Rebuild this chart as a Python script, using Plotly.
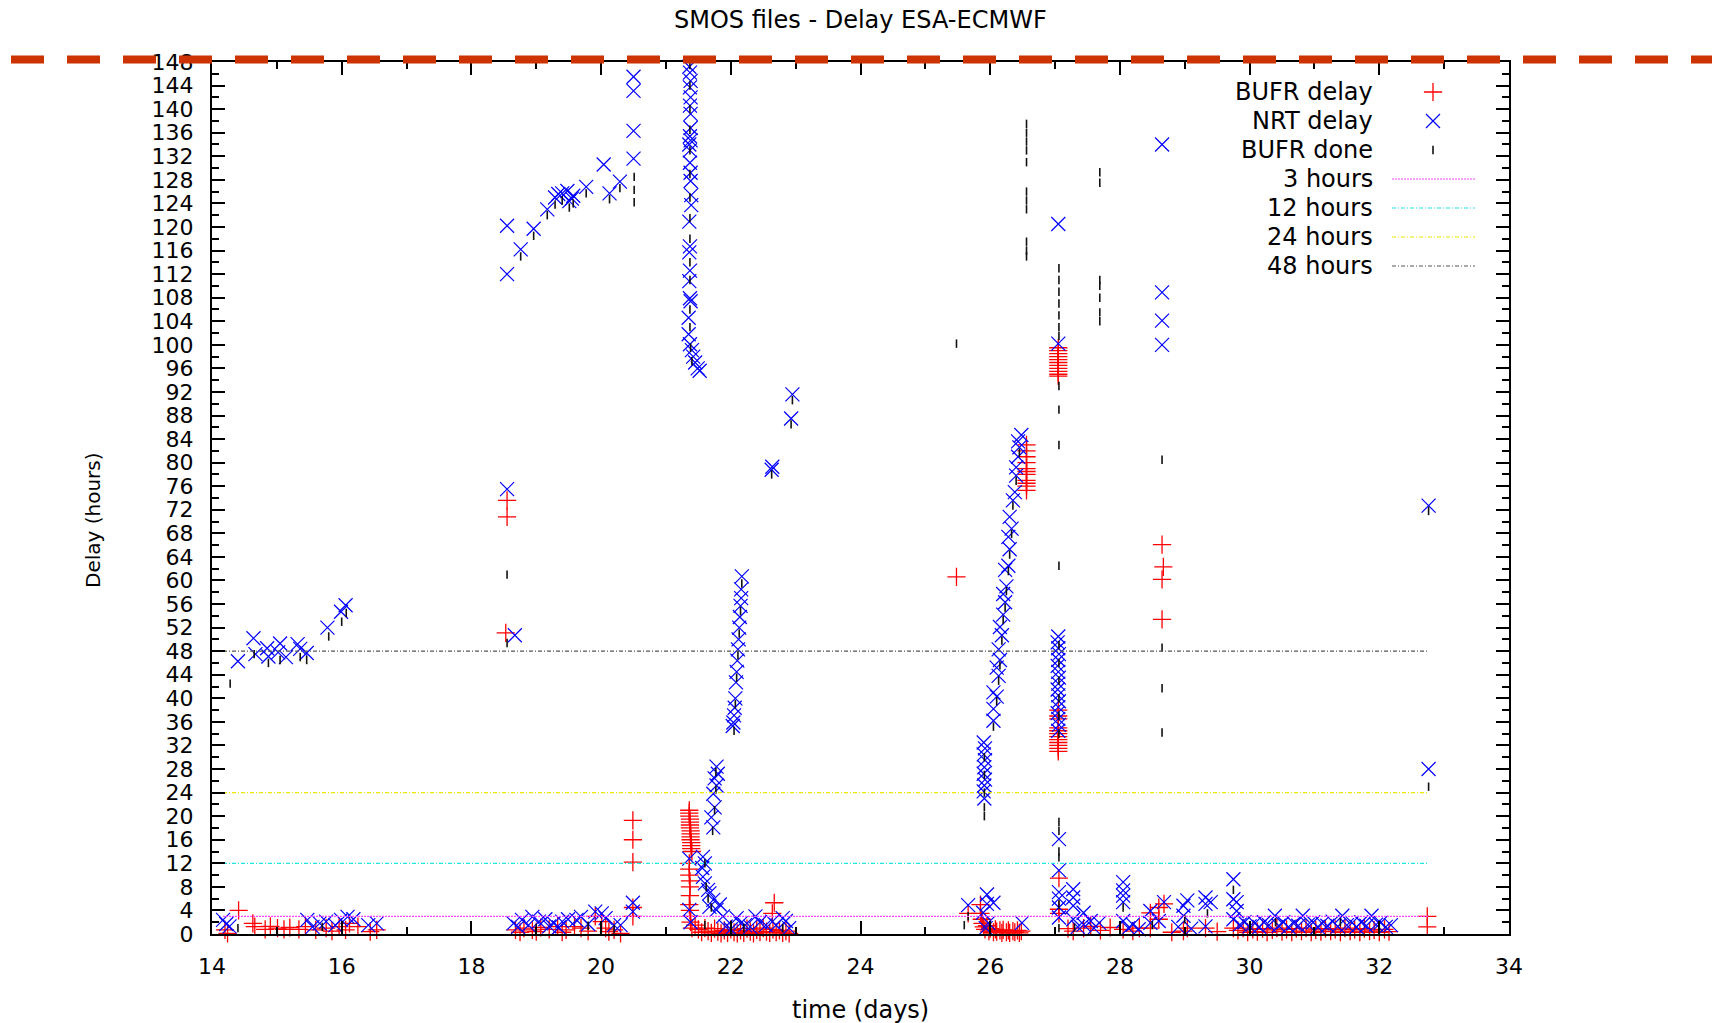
import plotly.graph_objects as go

# ---------------- data (time in days, delay in hours) ----------------
NRT_EARLY = [(14.17, 2.4), (14.22, 1.7), (14.27, 1.3),
             (14.40, 46.3), (14.64, 50.2), (14.67, 47.5), (14.85, 48.5), (14.87, 47.1),
             (15.02, 47.8), (15.05, 49.3), (15.14, 47.0), (15.32, 49.2), (15.36, 48.4),
             (15.46, 47.7), (15.78, 52.0), (15.99, 54.7), (16.06, 55.8),
             (15.47, 2.4), (15.55, 1.2), (15.66, 1.8), (15.76, 2.1), (15.90, 1.5), (15.99, 2.4),
             (16.09, 2.9), (16.18, 2.5), (16.41, 1.5), (16.54, 1.8)]
NRT_MID = [(18.55, 120.2), (18.55, 112.0), (18.76, 116.2), (18.96, 119.7), (19.17, 123.0),
           (19.29, 125.0), (19.34, 125.6), (19.40, 125.7), (19.48, 126.1), (19.51, 124.4),
           (19.55, 124.8), (19.57, 125.3), (19.77, 126.8), (20.04, 130.6), (20.13, 125.7),
           (20.29, 127.7), (20.50, 145.5), (20.50, 143.1), (20.50, 136.3), (20.50, 131.6),
           (18.55, 75.5), (18.67, 50.7),
           (18.65, 1.8), (18.72, 1.2), (18.78, 2.4), (18.88, 1.5), (18.94, 2.9), (19.04, 2.1),
           (19.14, 2.5), (19.20, 1.3), (19.27, 1.8), (19.35, 1.1), (19.40, 2.1), (19.49, 2.5),
           (19.62, 2.4), (19.69, 2.9), (19.80, 1.7), (19.91, 3.8), (20.01, 3.5), (20.07, 2.7),
           (20.20, 1.5), (20.30, 1.5), (20.49, 5.3), (20.49, 3.8)]
NRT_COL21 = [(21.36, 147.2), (21.37, 146.2), (21.38, 144.8), (21.37, 143.7), (21.38, 142.0),
             (21.37, 140.6), (21.38, 139.2), (21.38, 136.8), (21.37, 135.4), (21.38, 134.7),
             (21.36, 134.0), (21.37, 133.0), (21.37, 130.9), (21.38, 129.2), (21.38, 127.8),
             (21.39, 125.4), (21.39, 123.7), (21.36, 120.9), (21.37, 116.7), (21.36, 115.7),
             (21.37, 112.6), (21.36, 110.8), (21.37, 107.9), (21.38, 107.4), (21.35, 104.6),
             (21.35, 101.8), (21.37, 100.1), (21.40, 99.1), (21.42, 98.0), (21.45, 97.0),
             (21.49, 96.0), (21.52, 95.6)]
NRT_22 = [(21.78, 28.4), (21.80, 27.2), (21.75, 26.4), (21.78, 25.2), (21.73, 23.8),
          (21.75, 21.5), (21.70, 19.8), (21.73, 18.1),
          (21.36, 12.8), (21.57, 13.1), (21.60, 12.0), (21.56, 11.2), (21.57, 9.7), (21.60, 8.6),
          (21.65, 7.5), (21.67, 6.9), (21.73, 5.8), (21.83, 5.0), (21.67, 4.6), (21.78, 4.1),
          (21.36, 4.1), (21.88, 3.0), (21.38, 2.0),
          (21.92, 1.25), (22.00, 0.8), (22.09, 2.7), (22.15, 1.8), (22.22, 1.5), (22.30, 1.2),
          (22.38, 3.0), (22.45, 2.0), (22.54, 1.5), (22.64, 2.1), (22.70, 1.5), (22.80, 2.7),
          (22.85, 2.2), (22.90, 1.0),
          (22.03, 35.3), (22.04, 35.9), (22.05, 37.1), (22.06, 38.4), (22.07, 40.0),
          (22.08, 42.7), (22.09, 44.5), (22.10, 46.4), (22.11, 48.3), (22.12, 50.0),
          (22.13, 52.0), (22.14, 53.8), (22.15, 55.7), (22.16, 57.0), (22.16, 58.5),
          (22.17, 60.7),
          (22.63, 78.8), (22.64, 79.3), (22.93, 87.5), (22.95, 91.6)]
NRT_26 = [(25.66, 4.9),
          (25.90, 32.5), (25.92, 31.5), (25.90, 30.5), (25.92, 29.5), (25.91, 28.3),
          (25.90, 27.2), (25.92, 26.2), (25.91, 25.2), (25.90, 24.2), (25.91, 23.0),
          (26.05, 36.2), (26.05, 38.2), (26.10, 40.3), (26.05, 41.0), (26.13, 43.8),
          (26.10, 45.2), (26.15, 46.5), (26.13, 48.3), (26.18, 50.7), (26.15, 52.1),
          (26.20, 54.2), (26.23, 56.3), (26.20, 57.7), (26.25, 59.0), (26.23, 61.8),
          (26.28, 62.5), (26.30, 65.3), (26.28, 67.4), (26.33, 68.8), (26.30, 70.8),
          (26.35, 73.6), (26.38, 75.0), (26.40, 77.8), (26.40, 79.2), (26.43, 81.0),
          (26.45, 82.6), (26.43, 83.6), (26.48, 84.7),
          (25.95, 6.7), (26.05, 5.3), (25.95, 5.1), (25.89, 3.6), (25.97, 1.9), (25.93, 1.0),
          (26.49, 1.9)]
NRT_27 = [(27.05, 120.5), (27.05, 100.2),
          (27.05, 50.5), (27.04, 49.5), (27.05, 48.5), (27.06, 47.5), (27.05, 46.5),
          (27.04, 45.5), (27.05, 44.5), (27.06, 43.5), (27.05, 42.5), (27.04, 41.5),
          (27.05, 40.5), (27.06, 39.5), (27.05, 38.5), (27.04, 37.5), (27.05, 36.5),
          (27.06, 35.5), (27.05, 34.5),
          (27.06, 16.1), (27.06, 10.8), (27.06, 7.1), (27.06, 6.0), (27.06, 4.5), (27.06, 2.8),
          (27.28, 7.6), (27.28, 6.2), (27.28, 4.8), (27.28, 2.5), (27.35, 1.2), (27.44, 3.6),
          (27.44, 1.6), (27.55, 2.2), (27.60, 1.0), (27.68, 1.9)]
NRT_LATE = [(28.05, 8.8), (28.05, 7.4), (28.05, 6.5), (28.05, 5.4), (28.05, 2.2), (28.13, 1.0),
            (28.20, 1.6), (28.29, 0.8), (28.47, 3.9), (28.47, 1.9), (28.60, 2.2), (28.68, 5.4),
            (28.90, 1.2), (28.98, 4.8), (28.98, 3.1), (29.04, 5.7), (29.10, 0.9), (29.32, 6.2),
            (29.32, 5.1), (29.32, 1.3), (29.40, 5.4), (29.75, 9.3), (29.75, 5.9), (29.80, 5.4),
            (29.80, 3.9), (29.75, 2.5),
            (28.65, 134.0), (28.65, 108.9), (28.65, 104.1), (28.65, 100.0),
            (29.85, 1.6), (29.92, 2.0), (30.00, 1.3), (30.08, 1.8), (30.15, 1.2), (30.22, 2.0),
            (30.30, 1.5), (30.39, 3.1), (30.45, 1.4), (30.52, 2.0), (30.60, 1.2), (30.68, 1.8),
            (30.75, 1.4), (30.82, 3.1), (30.90, 1.6), (30.98, 2.0), (31.05, 1.2), (31.12, 1.8),
            (31.20, 1.4), (31.28, 2.1), (31.36, 1.3), (31.43, 3.1), (31.50, 1.5), (31.58, 1.9),
            (31.65, 1.2), (31.72, 2.0), (31.80, 1.4), (31.88, 3.1), (31.95, 1.6), (32.02, 1.9),
            (32.10, 1.2), (32.18, 1.5),
            (32.76, 72.7), (32.76, 28.0)]

BUFR_EARLY = [(14.20, 0.7), (14.24, 0.1), (14.41, 4.0), (14.63, 1.8), (14.66, 1.25),
              (14.82, 0.8), (14.90, 1.3), (15.01, 1.0), (15.11, 0.8), (15.20, 1.1), (15.34, 0.8),
              (15.44, 1.25), (15.60, 0.7), (15.76, 1.0), (15.85, 0.5), (15.96, 1.25),
              (16.06, 0.7), (16.12, 1.8), (16.25, 1.25), (16.44, 0.4), (16.54, 0.7)]
BUFR_MID = [(18.55, 73.6), (18.55, 70.8), (18.53, 51.1),
            (18.68, 0.7), (18.75, 0.3), (18.81, 1.0), (18.94, 0.7), (19.00, 0.4), (19.07, 1.1),
            (19.20, 0.8), (19.33, 1.25), (19.40, 0.3), (19.46, 0.7), (19.59, 1.25), (19.69, 1.0),
            (19.80, 0.5), (19.91, 3.0), (20.01, 2.1), (20.07, 1.0), (20.12, 0.4), (20.20, 0.7),
            (20.30, 0.1),
            (20.49, 19.3), (20.49, 16.0), (20.49, 12.2), (20.49, 4.5), (20.49, 3.0)]
BUFR_COL21 = [(21.36, 21.0), (21.36, 20.5), (21.36, 20.0), (21.37, 19.5), (21.37, 19.0),
              (21.37, 18.5), (21.37, 18.0), (21.38, 17.5), (21.38, 17.0), (21.38, 16.5),
              (21.38, 16.0), (21.39, 15.5), (21.39, 15.0), (21.39, 14.5), (21.40, 14.0),
              (21.36, 12.0), (21.36, 11.0), (21.36, 10.0), (21.37, 9.0), (21.37, 8.0),
              (21.37, 6.5), (21.36, 5.0), (21.37, 4.0), (21.38, 3.0), (21.38, 2.0), (21.40, 1.0)]
BUFR_22 = [(21.45, 1.5), (21.50, 0.8), (21.55, 0.3), (21.60, 1.0), (21.65, 0.5), (21.70, 0.2),
           (21.75, 0.9), (21.80, 0.4), (21.85, 0.1), (21.90, 0.6), (21.95, 0.2), (22.00, 0.8),
           (22.05, 0.3), (22.10, 0.1), (22.15, 0.6), (22.20, 0.2), (22.25, 0.9), (22.30, 0.4),
           (22.35, 0.1), (22.40, 0.7), (22.45, 0.3), (22.50, 1.0), (22.55, 0.4), (22.60, 0.2),
           (22.65, 0.8), (22.70, 0.3), (22.75, 0.6), (22.80, 0.2), (22.85, 0.5), (22.90, 0.1),
           (22.67, 5.3), (22.64, 3.5)]
BUFR_26 = [(25.48, 60.6), (25.66, 3.5),
           (25.85, 3.5), (25.85, 5.0), (25.87, 2.5), (25.88, 1.8), (25.90, 1.2), (25.92, 0.8),
           (25.95, 1.4), (25.98, 0.5), (26.00, 0.9), (26.05, 0.3), (26.08, 0.8), (26.10, 0.4),
           (26.15, 0.6), (26.18, 0.2), (26.20, 0.7), (26.25, 0.3), (26.28, 0.6), (26.30, 0.2),
           (26.35, 0.5), (26.38, 0.3), (26.42, 0.6), (26.45, 0.2), (26.48, 0.5),
           (26.56, 83.0), (26.56, 82.0), (26.56, 81.0), (26.56, 80.0), (26.56, 79.0),
           (26.56, 78.5), (26.56, 78.0), (26.56, 77.0), (26.56, 76.5), (26.56, 76.0),
           (26.56, 75.3)]
BUFR_27 = [(27.05, 99.5), (27.05, 99.0), (27.05, 98.5), (27.05, 98.0), (27.05, 97.5),
           (27.05, 97.0), (27.05, 96.5), (27.05, 96.0), (27.05, 95.5), (27.05, 95.0),
           (27.05, 94.7),
           (27.05, 38.0), (27.05, 37.0), (27.05, 36.5), (27.05, 35.0), (27.05, 34.5),
           (27.05, 34.0), (27.05, 33.5), (27.05, 33.0), (27.05, 32.5), (27.05, 32.0),
           (27.05, 31.5), (27.05, 31.0),
           (27.06, 9.5), (27.06, 4.2), (27.06, 3.5),
           (27.20, 0.9), (27.28, 0.5), (27.44, 1.0), (27.55, 1.3), (27.70, 0.6), (27.85, 1.1)]
BUFR_LATE = [(28.05, 0.8), (28.20, 0.5), (28.30, 1.0), (28.47, 3.6), (28.47, 1.0), (28.60, 4.5),
             (28.60, 2.5), (28.68, 5.1), (28.80, 0.3), (28.98, 0.5), (29.04, 1.0), (29.32, 1.0),
             (29.50, 0.4), (29.75, 1.0),
             (28.65, 66.1), (28.67, 62.3), (28.65, 60.2), (28.65, 53.4),
             (29.82, 0.6), (29.90, 1.0), (29.97, 0.3), (30.05, 0.8), (30.12, 0.4), (30.20, 0.9),
             (30.27, 0.3), (30.35, 0.7), (30.42, 1.0), (30.50, 0.4), (30.57, 0.8), (30.65, 0.3),
             (30.72, 0.9), (30.80, 0.5), (30.87, 1.0), (30.95, 0.3), (31.02, 0.7), (31.10, 0.4),
             (31.17, 0.9), (31.25, 0.5), (31.32, 0.8), (31.40, 0.3), (31.47, 1.0), (31.55, 0.5),
             (31.62, 0.8), (31.70, 0.3), (31.77, 0.9), (31.85, 0.5), (31.92, 0.7), (32.00, 0.3),
             (32.08, 0.8), (32.15, 0.4),
             (32.74, 3.0), (32.74, 1.2)]

DONE_A = [(14.28, 42.5), (14.65, 47.5), (14.87, 46.0), (15.05, 46.5), (15.36, 47.0),
          (15.46, 46.5), (15.80, 50.5), (16.00, 53.0), (16.07, 54.5),
          (18.55, 61.0), (18.55, 49.4), (18.76, 115.0), (18.96, 118.5), (19.17, 122.0),
          (19.29, 123.8), (19.40, 124.5), (19.51, 123.3), (19.57, 124.0), (19.77, 125.7),
          (20.13, 124.7), (20.29, 126.6), (20.51, 128.5), (20.51, 126.3), (20.51, 124.2)]
DONE_B = [(21.37, 147.5), (21.37, 144.0), (21.37, 140.0), (21.37, 136.5), (21.37, 133.0),
          (21.37, 129.0), (21.37, 125.0), (21.37, 121.5), (21.37, 118.0), (21.37, 114.0),
          (21.37, 111.0), (21.37, 106.0), (21.37, 103.0), (21.38, 99.5), (21.40, 97.2),
          (21.77, 27.5), (21.77, 24.5), (21.75, 21.0), (21.72, 17.5), (21.60, 12.0),
          (21.62, 8.0), (21.65, 6.0), (21.70, 4.5),
          (22.05, 34.5), (22.07, 39.0), (22.09, 43.5), (22.11, 47.3), (22.13, 51.0),
          (22.15, 54.8), (22.17, 59.5), (22.63, 78.0), (22.93, 86.5), (22.95, 90.6)]
DONE_C = [(25.48, 100.2), (25.66, 3.0),
          (25.91, 30.0), (25.91, 27.0), (25.91, 24.0), (25.91, 21.5), (25.91, 20.0),
          (26.05, 35.2), (26.10, 39.5), (26.13, 43.0), (26.15, 45.6), (26.18, 49.8),
          (26.20, 53.3), (26.23, 55.4), (26.25, 58.2), (26.28, 61.6), (26.30, 64.4),
          (26.33, 67.9), (26.35, 72.7), (26.40, 76.9), (26.45, 81.7),
          (26.56, 137.5), (26.56, 136.0), (26.56, 134.5), (26.56, 133.0), (26.56, 131.0),
          (26.56, 126.0), (26.56, 124.5), (26.56, 123.0), (26.56, 117.5), (26.56, 116.0),
          (26.56, 115.0)]
DONE_D = [(27.06, 113.0), (27.06, 111.0), (27.06, 109.0), (27.06, 107.0), (27.06, 105.0),
          (27.06, 103.0), (27.06, 101.5), (27.06, 93.0), (27.06, 89.0), (27.06, 83.0),
          (27.06, 62.5), (27.06, 49.0), (27.06, 46.0), (27.06, 43.0), (27.06, 40.0),
          (27.06, 37.0), (27.06, 34.0), (27.06, 19.0), (27.06, 17.5), (27.06, 14.0),
          (27.06, 13.0), (27.06, 5.0),
          (27.69, 129.3), (27.69, 127.5), (27.69, 111.0), (27.69, 110.0), (27.69, 108.0),
          (27.69, 105.5), (27.69, 104.0),
          (28.65, 80.5), (28.65, 48.6), (28.65, 41.7), (28.65, 34.2),
          (32.76, 71.8), (32.76, 25.0)]
DONE_LOW = [(14.40, 1.0), (15.70, 1.2), (19.00, 1.0), (19.80, 1.4), (20.20, 0.8), (21.60, 1.5),
            (22.20, 1.0), (22.80, 1.0), (25.60, 1.5), (26.00, 1.0), (27.06, 1.0), (27.30, 1.1),
            (28.05, 4.5), (28.50, 1.5), (29.00, 2.5), (29.35, 3.5), (29.75, 7.5), (30.40, 2.0),
            (31.40, 2.0), (32.00, 1.0)]

REF_HOURS = [3, 12, 24, 48]
REF_NAMES = ["3 hours", "12 hours", "24 hours", "48 hours"]
REF_SPAN = [14.17, 32.76]
SERIES_NAMES = ["BUFR delay", "NRT delay", "BUFR done"]

TITLE = "SMOS files - Delay ESA-ECMWF"
X_TITLE = "time (days)"
Y_TITLE = "Delay (hours)"


def split(*groups):
    xs, ys = [], []
    for g in groups:
        for t, h in g:
            xs.append(t)
            ys.append(h)
    return xs, ys


bufr_x, bufr_y = split(BUFR_EARLY, BUFR_MID, BUFR_COL21, BUFR_22, BUFR_26, BUFR_27, BUFR_LATE)
nrt_x, nrt_y = split(NRT_EARLY, NRT_MID, NRT_COL21, NRT_22, NRT_26, NRT_27, NRT_LATE)
done_x, done_y = split(DONE_A, DONE_B, DONE_C, DONE_D, DONE_LOW)

FONT = "DejaVu Sans"
RED = "#ff0000"
BLUE = "#0000ff"
REF_STYLES = [("#ff44ff", "2px,1px"), ("#22e6e6", "4px,2px,1px,2px"),
              ("#e8e800", "4px,2px,1px,2px"), ("#555555", "4px,2px,1px,2px")]

bufr_marker = dict(symbol="cross-thin", size=13, line=dict(color=RED, width=1.3))
nrt_marker = dict(symbol="x-thin", size=14, line=dict(color=BLUE, width=1.2))
done_marker = dict(symbol="line-ns", size=6, line=dict(color="#111111", width=1.6))

fig = go.Figure()
fig.add_trace(go.Scatter(x=bufr_x, y=bufr_y, mode="markers", name=SERIES_NAMES[0],
                         marker=bufr_marker, cliponaxis=False, showlegend=False))
fig.add_trace(go.Scatter(x=nrt_x, y=nrt_y, mode="markers", name=SERIES_NAMES[1],
                         marker=nrt_marker, cliponaxis=False, showlegend=False))
fig.add_trace(go.Scatter(x=done_x, y=done_y, mode="markers", name=SERIES_NAMES[2],
                         marker=done_marker, cliponaxis=False, showlegend=False))
for h, nm, (col, dsh) in zip(REF_HOURS, REF_NAMES, REF_STYLES):
    fig.add_trace(go.Scatter(x=REF_SPAN, y=[h, h], mode="lines", name=nm,
                             line=dict(color=col, width=1.2, dash=dsh), showlegend=False))

# ---- custom legend (text right-aligned, key on the right, like gnuplot) ----
L, R, T, B = 212, 203, 62, 89
W, H = 1712, 1023
PW, PH = W - L - R, H - T - B


def px_x(px):
    return (px - L) / PW


def px_y(py):
    return (H - B - py) / PH


text_x = px_x(1375)
key_x = px_x(1433)
line_x0, line_x1 = px_x(1392), px_x(1475)
row_y = [px_y(92 + 29 * i) for i in range(7)]

labels = SERIES_NAMES + REF_NAMES
annotations = []
for i, lab in enumerate(labels):
    annotations.append(dict(x=text_x, y=row_y[i], xref="paper", yref="paper", text=lab,
                            showarrow=False, xanchor="right", yanchor="middle",
                            font=dict(family=FONT, size=24, color="black")))

for mk, i in ((bufr_marker, 0), (nrt_marker, 1), (done_marker, 2)):
    fig.add_trace(go.Scatter(x=[key_x], y=[row_y[i]], mode="markers", marker=mk,
                             xaxis="x2", yaxis="y2", showlegend=False, hoverinfo="skip"))
for j, (col, dsh) in enumerate(REF_STYLES):
    fig.add_trace(go.Scatter(x=[line_x0, line_x1], y=[row_y[3 + j]] * 2, mode="lines",
                             line=dict(color=col, width=1.2, dash=dsh),
                             xaxis="x2", yaxis="y2", showlegend=False, hoverinfo="skip"))

annotations.append(dict(x=0.5, y=px_y(20), xref="paper", yref="paper", text=TITLE,
                        showarrow=False, xanchor="center", yanchor="middle",
                        font=dict(family=FONT, size=24, color="black")))
annotations.append(dict(x=0.5, y=px_y(1010), xref="paper", yref="paper", text=X_TITLE,
                        showarrow=False, xanchor="center", yanchor="middle",
                        font=dict(family=FONT, size=24, color="black")))
annotations.append(dict(x=px_x(93), y=px_y(520), xref="paper", yref="paper", text=Y_TITLE,
                        showarrow=False, xanchor="center", yanchor="middle", textangle=-90,
                        font=dict(family=FONT, size=20, color="black")))

axis_common = dict(showline=True, linecolor="black", linewidth=2, mirror="ticks",
                   ticks="inside", ticklen=13, tickwidth=2, tickcolor="black",
                   showgrid=False, zeroline=False,
                   tickfont=dict(family=FONT, size=22, color="black"))

fig.update_layout(
    width=W, height=H,
    margin=dict(l=L, r=R, t=T, b=B, pad=0),
    paper_bgcolor="white", plot_bgcolor="white",
    showlegend=False,
    xaxis=dict(range=[14, 34], dtick=2, tick0=14, ticklabelstandoff=12,
               minor=dict(dtick=1, ticks="inside", ticklen=7, tickwidth=2, tickcolor="black"),
               **axis_common),
    yaxis=dict(range=[0, 148], dtick=4, tick0=0, ticklabelstandoff=12,
               minor=dict(dtick=2, ticks="inside", ticklen=7, tickwidth=2, tickcolor="black"),
               **axis_common),
    xaxis2=dict(overlaying="x", range=[0, 1], visible=False),
    yaxis2=dict(overlaying="y", range=[0, 1], visible=False),
    annotations=annotations,
    shapes=[dict(type="line", xref="paper", yref="paper",
                 x0=px_x(11), x1=px_x(1712), y0=px_y(59.5), y1=px_y(59.5),
                 line=dict(color="#cc3300", width=8, dash="33px,23px"), layer="above")],
)

fig.write_html("out.html")
